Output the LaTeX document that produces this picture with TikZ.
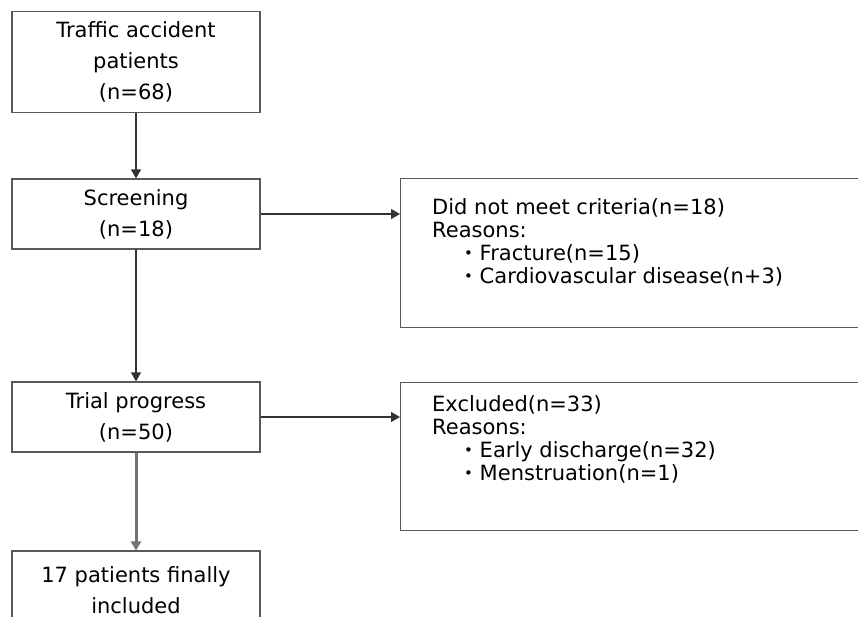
\documentclass[tikz,border=0pt]{standalone}
\usepackage{fontspec}
\setmainfont{DejaVu Sans}
\usetikzlibrary{arrows.meta}
\newcommand\smallbullet{\raisebox{1.5pt}{\fontsize{15}{15}\selectfont•}}

\begin{document}
\begin{tikzpicture}[x=1pt,y=-1pt,>={Triangle[length=9pt,width=10pt]},
  stagebox/.style={draw=black!65,line width=1.2pt,minimum width=248pt,align=center,
                   inner sep=0pt,font=\fontsize{21}{31}\selectfont},
  reasonbox/.style={draw=black!65,line width=1.2pt,anchor=north west,minimum width=480pt,inner sep=0pt},
  reasontext/.style={anchor=north west,align=left,inner sep=0pt,font=\fontsize{21}{23}\selectfont},
  flow/.style={->,draw=black!80,line width=1.3pt}]
\useasboundingbox (0,0) rectangle (858,617);
\clip (0,0) rectangle (858,617);

% Stages
\path (136,62)  node[stagebox,minimum height=101pt] (Patients)  {Traffic accident\\patients\\(n=68)}
      (136,214) node[stagebox,minimum height=70pt]  (Screening) {Screening\\(n=18)}
      (136,417) node[stagebox,minimum height=70pt]  (Trial)     {Trial progress\\(n=50)}
      (136,590) node[stagebox,minimum height=78pt]  (Included)  {17 patients finally\\included};

% Reasons
\path (400,178) node[reasonbox,minimum height=149pt] (Unmet)    {}
      (400,382) node[reasonbox,minimum height=148pt] (Excluded) {};
\node[reasontext] (UnmetText) at ([shift={(32,20)}]Unmet.north west)
  {Did not meet criteria(n=18)\\Reasons:\\\hspace*{32pt}\smallbullet\ Fracture(n=15)\\\hspace*{32pt}\smallbullet\ Cardiovascular disease(n+3)};
\node[reasontext] (ExcludedText) at ([shift={(32,13)}]Excluded.north west)
  {Excluded(n=33)\\Reasons:\\\hspace*{32pt}\smallbullet\ Early discharge(n=32)\\\hspace*{32pt}\smallbullet\ Menstruation(n=1)};

% Flow
\draw[flow] (Patients) -- (Screening);
\draw[flow] (Screening) -- (Trial);
\draw[flow,draw=black!55,line width=3pt] (Trial) -- (Included);
\draw[flow] (Screening.east) -- (Screening.east -| Unmet.west);
\draw[flow] (Trial.east) -- (Trial.east -| Excluded.west);
\end{tikzpicture}
\end{document}
